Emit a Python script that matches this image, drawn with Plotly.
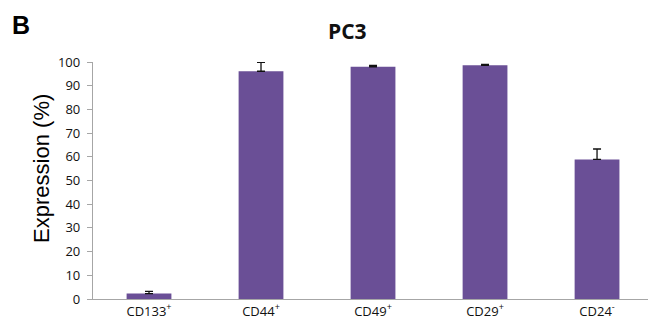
import plotly.graph_objects as go

# Marker expression in PC3 cells
markers = ["CD133<sup>+</sup>", "CD44<sup>+</sup>", "CD49<sup>+</sup>", "CD29<sup>+</sup>", "CD24<sup>-</sup>"]
expression = [2.3, 96.1, 98.0, 98.6, 58.9]
error_up = [0.9, 3.8, 0.6, 0.4, 4.4]
y_ticks = [0, 10, 20, 30, 40, 50, 60, 70, 80, 90, 100]

fig = go.Figure(
    go.Bar(
        x=list(range(len(markers))),
        y=expression,
        width=0.4,
        marker=dict(color="#6A4F96", line=dict(width=0)),
        error_y=dict(
            type="data",
            symmetric=False,
            array=error_up,
            arrayminus=[0] * len(error_up),
            color="#111111",
            thickness=1.3,
            width=4,
        ),
    )
)

fig.update_layout(
    width=648,
    height=324,
    margin=dict(l=93, r=0, t=62, b=25),
    paper_bgcolor="white",
    plot_bgcolor="white",
    showlegend=False,
    font=dict(family="Open Sans, Liberation Sans, sans-serif", color="#222222"),
    annotations=[
        # panel letter
        dict(
            text="<b>B</b>",
            xref="paper",
            yref="paper",
            x=0,
            y=1,
            xshift=-83,
            yshift=37,
            xanchor="left",
            yanchor="middle",
            showarrow=False,
            font=dict(size=25, family="Liberation Sans, Arial, sans-serif", color="#000000"),
        ),
        # chart title
        dict(
            text="<b>PC3</b>",
            xref="paper",
            yref="paper",
            x=0.458,
            y=1,
            yshift=31,
            xanchor="center",
            yanchor="middle",
            showarrow=False,
            font=dict(size=21, family="Open Sans, sans-serif", color="#111111"),
        ),
        # y-axis title
        dict(
            text="Expression (%)",
            xref="paper",
            yref="paper",
            x=0,
            y=0.549,
            xshift=-51,
            xanchor="center",
            yanchor="middle",
            textangle=-90,
            showarrow=False,
            font=dict(size=22, family="Liberation Sans, Arial, sans-serif", color="#000000"),
        ),
    ],
)

fig.update_xaxes(
    range=[-0.5, 4.455],
    tickmode="array",
    tickvals=list(range(len(markers))),
    ticktext=markers,
    showline=True,
    linecolor="#A6A6A6",
    linewidth=1.3,
    ticks="",
    showgrid=False,
    zeroline=False,
    automargin=False,
    tickfont=dict(size=13, family="Open Sans, sans-serif", color="#111111"),
)

fig.update_yaxes(
    range=[0, 100],
    tickmode="array",
    tickvals=y_ticks,
    ticktext=[str(v) for v in y_ticks],
    showline=True,
    linecolor="#A6A6A6",
    linewidth=1.3,
    ticks="outside",
    ticklen=5,
    tickcolor="#A6A6A6",
    showgrid=False,
    zeroline=False,
    automargin=False,
    ticklabelstandoff=4,
    tickfont=dict(size=13, family="Open Sans, sans-serif", color="#111111"),
)

fig.write_html("out.html")
